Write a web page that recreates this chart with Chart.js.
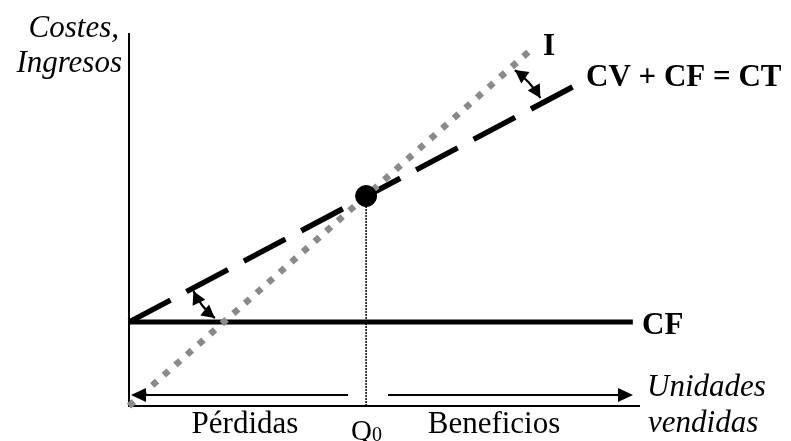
<!DOCTYPE html>
<html>
<head>
<meta charset="utf-8">
<script src="https://cdn.jsdelivr.net/npm/chart.js@4/dist/chart.umd.min.js"></script>
<style>
  html, body { margin: 0; padding: 0; background: #fff; }
  #wrap { width: 791px; height: 441px; position: relative; }
</style>
</head>
<body>
<div id="wrap"><canvas id="breakEvenChart"></canvas></div>
<script>
// axis ranges (arbitrary units, no tick labels shown)
const xRange = [0, 100];
const yRange = [0, 100];

// CF: fixed costs, flat
const cfUnits = [0, 98.6];
const cfValues = [22.5, 22.5];

// CT = CV + CF
const ctUnits = [0, 88];
const ctValues = [22.5, 86.4];

// I: income
const incomeUnits = [0, 78.5];
const incomeValues = [0, 95.3];

// break-even point Q0
const breakEvenUnits = [46.4];
const breakEvenValues = [56.3];

const toPoints = (xs, ys) => xs.map((x, i) => ({ x, y: ys[i] }));
const serif = '"Liberation Serif", "Times New Roman", serif';

const lineAt = (xs, ys, x) => ys[0] + (ys[1] - ys[0]) * (x - xs[0]) / (xs[1] - xs[0]);

const arrowHead = (ctx, tipX, tipY, angle, len, half) => {
  ctx.save();
  ctx.translate(tipX, tipY);
  ctx.rotate(angle);
  ctx.beginPath();
  ctx.moveTo(0, 0);
  ctx.lineTo(-len, -half);
  ctx.lineTo(-len, half);
  ctx.closePath();
  ctx.fill();
  ctx.restore();
};

const axesPlugin = {
  id: 'axesPlugin',
  beforeDatasetsDraw(chart) {
    const { ctx, chartArea: a } = chart;
    ctx.save();
    ctx.strokeStyle = '#000';
    ctx.lineWidth = 2;
    ctx.beginPath();
    ctx.moveTo(a.left, a.top);
    ctx.lineTo(a.left, a.bottom);
    ctx.lineTo(a.right, a.bottom);
    ctx.stroke();
    ctx.restore();
  }
};

const notesPlugin = {
  id: 'notesPlugin',
  afterDraw(chart) {
    const { ctx, chartArea: a } = chart;
    const xs = chart.scales.x, ys = chart.scales.y;
    ctx.save();
    ctx.fillStyle = '#000';
    ctx.strokeStyle = '#000';

    // bottom arrows: Pérdidas / Beneficios
    const q0px = xs.getPixelForValue(breakEvenUnits[0]);
    const arrowY = a.bottom - 11;
    ctx.lineWidth = 2;
    ctx.beginPath();
    ctx.moveTo(q0px - 18, arrowY);
    ctx.lineTo(a.left + 12, arrowY);
    ctx.moveTo(q0px + 22, arrowY);
    ctx.lineTo(a.right - 18, arrowY);
    ctx.stroke();
    arrowHead(ctx, a.left + 2, arrowY, Math.PI, 15, 7);
    arrowHead(ctx, a.right - 7, arrowY, 0, 15, 7);

    // angle marks (curved double arrows)
    const curve = (x1, y1, x2, y2, bend) => {
      const mx = (x1 + x2) / 2, my = (y1 + y2) / 2;
      const dx = x2 - x1, dy = y2 - y1;
      const len = Math.hypot(dx, dy);
      const cx = mx - dy / len * bend, cy = my + dx / len * bend;
      ctx.lineWidth = 2.2;
      ctx.beginPath();
      ctx.moveTo(x1, y1);
      ctx.quadraticCurveTo(cx, cy, x2, y2);
      ctx.stroke();
      arrowHead(ctx, x1, y1, Math.atan2(y1 - cy, x1 - cx), 13, 7);
      arrowHead(ctx, x2, y2, Math.atan2(y2 - cy, x2 - cx), 13, 7);
    };
    const lx1 = 12.6, lx2 = 16.8;
    curve(xs.getPixelForValue(lx1), ys.getPixelForValue(lineAt(ctUnits, ctValues, lx1)) + 3,
          xs.getPixelForValue(lx2), ys.getPixelForValue(cfValues[0]) - 4, 4);
    const ux1 = 75.5, ux2 = 80.5;
    curve(xs.getPixelForValue(ux1), ys.getPixelForValue(lineAt(incomeUnits, incomeValues, ux1)) + 6,
          xs.getPixelForValue(ux2), ys.getPixelForValue(lineAt(ctUnits, ctValues, ux2)) - 6, -4);

    // texts
    ctx.textBaseline = 'alphabetic';
    ctx.font = 'italic 31px ' + serif;
    ctx.textAlign = 'right';
    ctx.fillText('Costes,', 119, 37);
    ctx.fillText('Ingresos', 122, 72);
    ctx.textAlign = 'left';
    ctx.fillText('Unidades', 647, 396);
    ctx.fillText('vendidas', 648, 432);

    ctx.font = 'bold 31px ' + serif;
    ctx.fillText('I', 543, 55);
    ctx.fillText('CV + CF = CT', 586, 86);
    ctx.fillText('CF', 642, 334);

    ctx.font = '31px ' + serif;
    ctx.textAlign = 'center';
    ctx.fillText('Pérdidas', 245, 433);
    ctx.fillText('Beneficios', 494, 433);
    ctx.textAlign = 'left';
    ctx.font = '29px ' + serif;
    ctx.fillText('Q', q0px - 15, 440);
    ctx.font = '20px ' + serif;
    ctx.fillText('0', q0px + 6, 441);
    ctx.restore();
  }
};

// first dataset in the list is drawn on top
new Chart(document.getElementById('breakEvenChart'), {
  type: 'line',
  data: {
    datasets: [
      {
        label: 'Punto muerto',
        data: toPoints(breakEvenUnits, breakEvenValues),
        showLine: false,
        pointRadius: 10.5,
        pointBackgroundColor: '#000',
        pointBorderColor: '#000',
        clip: false
      },
      {
        label: 'I',
        data: toPoints(incomeUnits, incomeValues),
        borderColor: '#8a8a8a',
        borderWidth: 6.5,
        borderDash: [6.5, 9],
        borderCapStyle: 'butt',
        pointRadius: 0,
        clip: false
      },
      {
        label: 'CT',
        data: toPoints(ctUnits, ctValues),
        borderColor: '#000',
        borderWidth: 5.5,
        borderDash: [47, 18],
        pointRadius: 0,
        clip: false
      },
      {
        label: 'CF',
        data: toPoints(cfUnits, cfValues),
        borderColor: '#000',
        borderWidth: 5,
        pointRadius: 0,
        clip: false
      },
      {
        label: 'Q0',
        data: [{ x: breakEvenUnits[0], y: yRange[0] }, { x: breakEvenUnits[0], y: breakEvenValues[0] }],
        borderColor: '#000',
        borderWidth: 1.5,
        borderDash: [2, 1],
        pointRadius: 0,
        clip: false
      }
    ]
  },
  options: {
    responsive: true,
    maintainAspectRatio: false,
    animation: false,
    layout: { padding: { left: 129, right: 151, top: 33, bottom: 35 } },
    plugins: {
      legend: { display: false },
      tooltip: { enabled: false }
    },
    scales: {
      x: { type: 'linear', display: false, min: xRange[0], max: xRange[1] },
      y: { type: 'linear', display: false, min: yRange[0], max: yRange[1] }
    }
  },
  plugins: [axesPlugin, notesPlugin]
});
</script>
</body>
</html>
